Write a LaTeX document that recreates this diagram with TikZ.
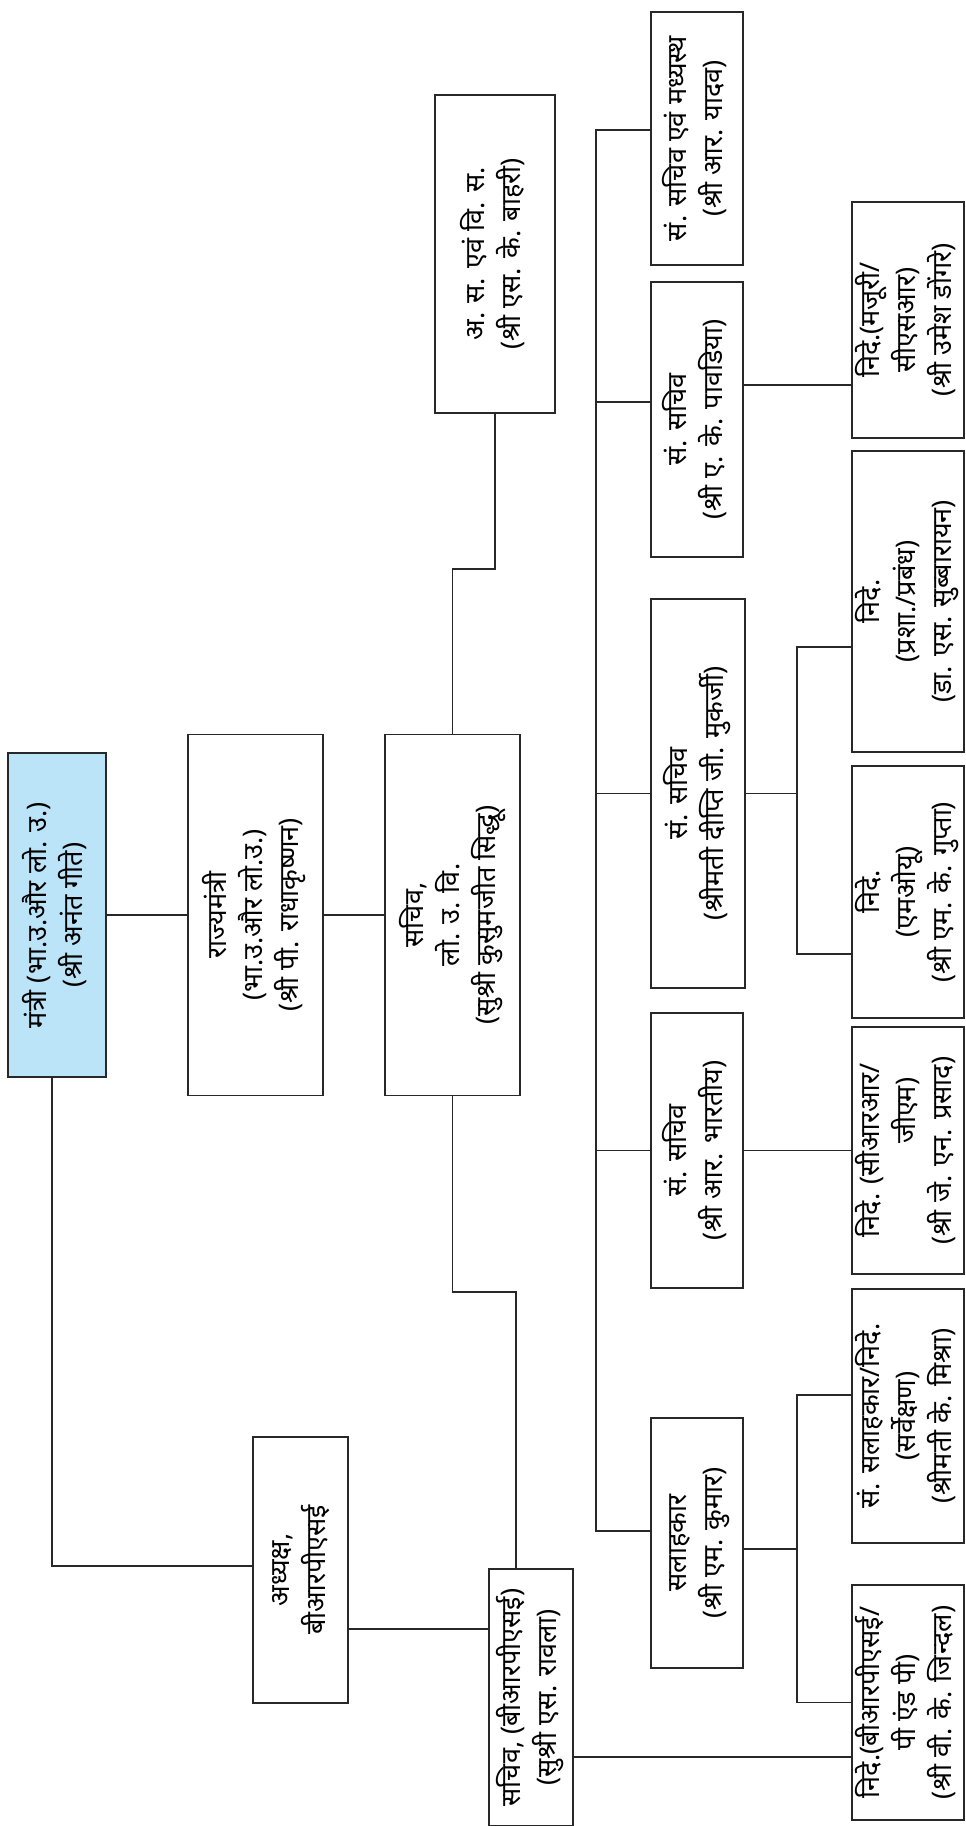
\documentclass[tikz,border=0pt]{standalone}
\usepackage{fontspec}
\setmainfont{Noto Sans}[Script=Devanagari]
\usepackage{graphicx}
\definecolor{minblue}{RGB}{187,228,248}
\definecolor{ink}{RGB}{40,40,40}
\newcommand\rtext[1]{\rotatebox{90}{\begin{tabular}{@{}c@{}}#1\end{tabular}}}
\tikzset{
  orgbox/.style={draw=ink, line width=1.4pt, inner sep=0pt, fill=white,
    font=\fontsize{27}{36}\selectfont},
  link/.style={draw=ink, line width=1.4pt}
}
\begin{document}
\begin{tikzpicture}[x=1pt,y=-1pt]
\useasboundingbox[fill=white] (0,0) rectangle (966,1826);
\renewcommand\arraystretch{1}
% level 1
\node[orgbox, fill=minblue, minimum width=98pt, minimum height=324pt] (min) at (57,915)
  {\rtext{मंत्री (भा.उ.और लो. उ.)\\(श्री अनंत गीते)}};
\node[orgbox, minimum width=135pt, minimum height=361pt] (raj) at (255.5,915)
  {\rtext{राज्यमंत्री\\(भा.उ.और लो.उ.)\\(श्री पी. राधाकृष्णन)}};
\node[orgbox, minimum width=135pt, minimum height=361pt] (sach) at (452.5,915)
  {\rtext{सचिव,\\लो. उ. वि.\\(सुश्री कुसुमजीत सिद्धू)}};
\node[orgbox, minimum width=120pt, minimum height=318pt] (as) at (495,254)
  {\rtext{अ. स. एवं वि. स.\\(श्री एस. के. बाहरी)}};
\node[orgbox, minimum width=95pt, minimum height=266pt] (adh) at (300.5,1570)
  {\rtext{अध्यक्ष,\\बीआरपीएसई}};
\node[orgbox, minimum width=84pt, minimum height=257pt] (brs) at (531,1697.5)
  {\rtext{सचिव, (बीआरपीएसई)\\(सुश्री एस. रावला)}};
% column 2
\node[orgbox, minimum width=92pt, minimum height=253pt] (yad) at (697,138.5)
  {\rtext{सं. सचिव एवं मध्यस्थ\\(श्री आर. यादव)}};
\node[orgbox, minimum width=92pt, minimum height=275pt] (pav) at (697,419.5)
  {\rtext{सं. सचिव\\(श्री ए. के. पावडिया)}};
\node[orgbox, minimum width=94pt, minimum height=389pt] (dee) at (698,793.5)
  {\rtext{सं. सचिव\\(श्रीमती दीप्ति जी. मुकर्जी)}};
\node[orgbox, minimum width=92pt, minimum height=275pt] (bha) at (697,1150.5)
  {\rtext{सं. सचिव\\(श्री आर. भारतीय)}};
\node[orgbox, minimum width=92pt, minimum height=250pt] (sal) at (697,1543)
  {\rtext{सलाहकार\\(श्री एम. कुमार)}};
% column 3
\node[orgbox, minimum width=112pt, minimum height=236pt] (maj) at (908,320)
  {\rtext{निदे.(मजूरी/\\सीएसआर)\\(श्री उमेश डोंगरे)}};
\node[orgbox, minimum width=112pt, minimum height=301pt] (pra) at (908,601.5)
  {\rtext{निदे.\\(प्रशा./प्रबंध)\\(डा. एस. सुब्बारायन)}};
\node[orgbox, minimum width=112pt, minimum height=252pt] (mou) at (908,892)
  {\rtext{निदे.\\(एमओयू)\\(श्री एम. के. गुप्ता)}};
\node[orgbox, minimum width=112pt, minimum height=247pt] (crr) at (908,1150.5)
  {\rtext{निदे. (सीआरआर/\\\phantom{निदे. (स}जीएम)\\(श्री जे. एन. प्रसाद)}};
\node[orgbox, minimum width=112pt, minimum height=254pt] (ssal) at (908,1416)
  {\rtext{सं. सलाहकार/निदे.\\(सर्वेक्षण)\\(श्रीमती के. मिश्रा)}};
\node[orgbox, minimum width=112pt, minimum height=235pt] (nbr) at (908,1702.5)
  {\rtext{निदे.(बीआरपीएसई/\\पी एंड पी)\\(श्री वी. के. जिन्दल)}};

% main links
\draw[link] (min.east) -- (min.east -| raj.west);
\draw[link] (raj.east) -- (raj.east -| sach.west);
\draw[link] (sach.north) -- ++(0,-165) -| (as.south);
\coordinate (bb) at ([xshift=-15pt]brs.north);
\draw[link] (sach.south) |- (bb |- 0,1292) -- (bb);
\coordinate (mb) at ([xshift=-5pt]min.south);
\draw[link] (mb) |- ([yshift=4pt]adh.west);
\coordinate (a1) at ([yshift=-59pt]adh.east);
\draw[link] (a1) -- (a1 -| brs.west);
\coordinate (b1) at ([yshift=-59.5pt]brs.east);
\draw[link] (b1) -- (b1 -| nbr.west);

% bus
\coordinate (bust) at (596,130);
\coordinate (c1) at ([yshift=8.5pt]yad.west);
\coordinate (c2) at ([yshift=17.5pt]pav.west);
\coordinate (c3) at (dee.west);
\coordinate (c4) at (bha.west);
\coordinate (c5) at ([yshift=12pt]sal.west);
\draw[link] (c1) -- (c1 -| bust) -- (c5 -| bust) -- (c5);
\draw[link] (c2) -- (c2 -| bust);
\draw[link] (c3) -- (c3 -| bust);
\draw[link] (c4) -- (c4 -| bust);

% right links
\coordinate (d1) at ([yshift=34.5pt]pav.east);
\draw[link] (d1) -- (d1 -| maj.west);
\coordinate (jx) at (797,0);
\coordinate (p1) at ([yshift=-45.5pt]pra.west);
\coordinate (m1) at ([yshift=-62pt]mou.west);
\draw[link] (dee.east) -- (dee.east -| jx);
\draw[link] (p1) -- (p1 -| jx) -- (m1 -| jx) -- (m1);
\draw[link] (bha.east) -- (crr.west);
\coordinate (s1) at ([yshift=-6pt]sal.east);
\coordinate (s2) at ([yshift=21pt]ssal.west);
\coordinate (s3) at (nbr.west);
\draw[link] (s1) -- (s1 -| jx);
\draw[link] (s2) -- (s2 -| jx) -- (s3 -| jx) -- (s3);
\end{tikzpicture}
\end{document}
